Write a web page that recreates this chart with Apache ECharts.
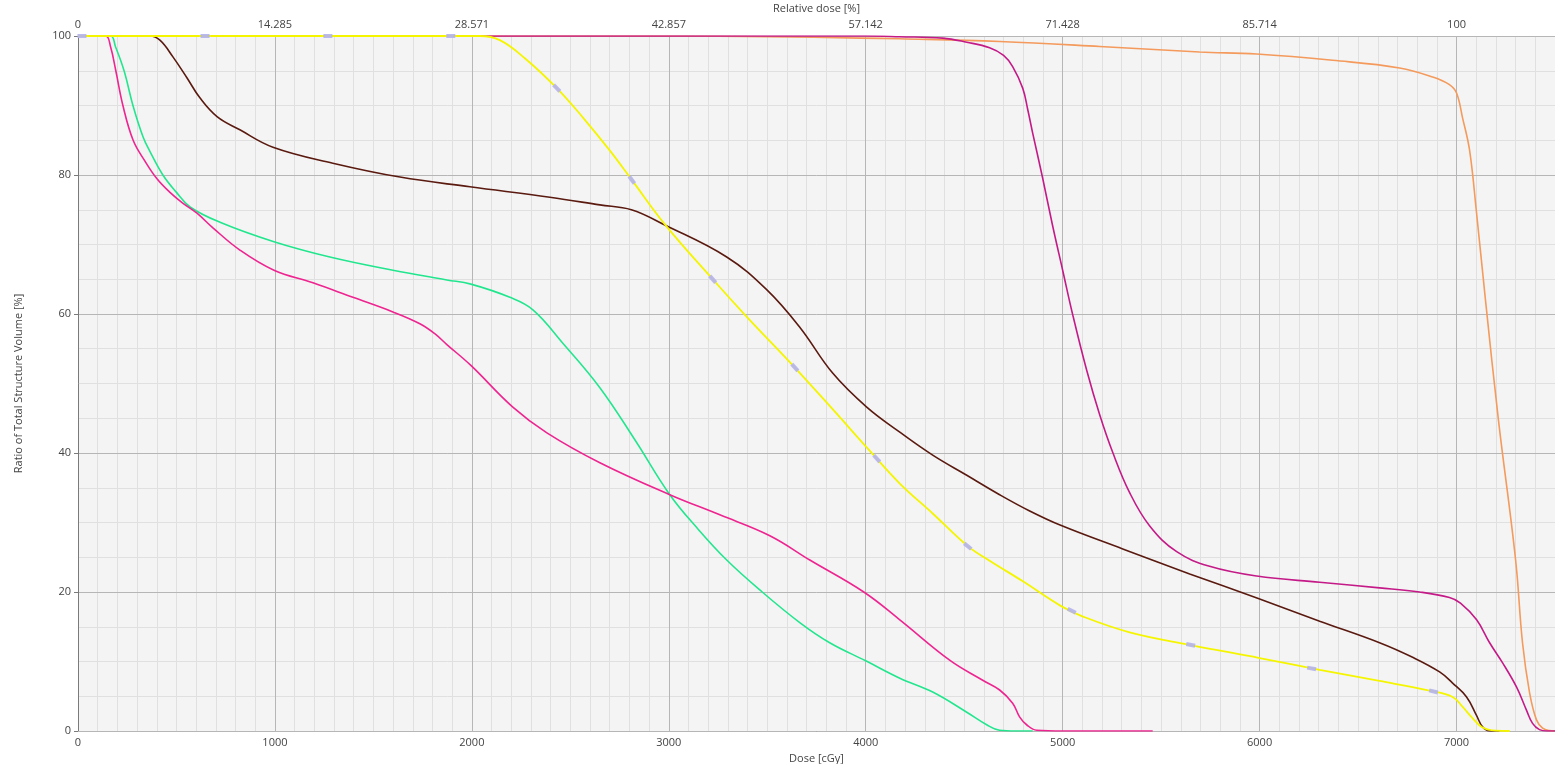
<!DOCTYPE html>
<html><head><meta charset="utf-8">
<script src="https://cdn.jsdelivr.net/npm/echarts@6/dist/echarts.min.js"></script>
<style>html,body{margin:0;padding:0;background:#fff}#c{width:1555px;height:764px}</style>
</head><body><div id="c"></div>
<script>
// ---- data (dose [cGy], volume [%]) ----
const topTickLabels = ['0','14.285','28.571','42.857','57.142','71.428','85.714','100'];

const greenCurve = [[0,100],[165,100],[190,98.5],[234,95],[279,90],[330,85.5],[365,83.4],[431,80],[500,77.5],[569,75.4],[721,73.2],[995,70.4],[1279,68.2],[1599,66.3],[1873,64.9],[1995,64.3],[2193,62.4],[2310,60.6],[2462,55.8],[2650,49.4],[2830,41.8],[3005,34],[3150,29],[3294,24.6],[3462,20.3],[3665,15.6],[3817,12.7],[4000,10.1],[4173,7.6],[4340,5.6],[4513,2.7],[4614,0.9],[4680,0.1],[4760,0],[4848,0]];

const pinkCurve = [[0,100],[140,100],[165,98.5],[192,95],[228,90],[280,85],[340,82],[400,79.5],[467,77.5],[530,76],[604,74.5],[685,72.4],[822,69.2],[995,66.3],[1193,64.5],[1396,62.4],[1599,60.3],[1736,58.6],[1810,57.2],[1873,55.6],[1995,52.6],[2208,46.6],[2381,42.9],[2650,38.6],[3005,34],[3259,31.1],[3513,28.1],[3716,24.6],[3990,20],[4173,16],[4426,10.2],[4594,7.3],[4680,5.9],[4746,4],[4782,2],[4817,0.9],[4868,0.1],[5000,0],[5457,0]];

const brownCurve = [[0,100],[365,100],[416,99.4],[482,97],[553,94],[619,91.1],[706,88.4],[822,86.5],[990,84],[1294,81.7],[1635,79.7],[1990,78.3],[2396,76.8],[2650,75.7],[2810,75],[2980,72.8],[3294,68.2],[3497,63.5],[3665,58.1],[3832,51.5],[4005,46.6],[4173,43],[4340,39.7],[4513,36.8],[4680,34],[4830,31.7],[4990,29.6],[5305,26.2],[5645,22.6],[5990,19.1],[6305,15.8],[6609,12.7],[6777,10.6],[6914,8.5],[6980,6.9],[7051,4.9],[7102,2.2],[7132,0.6],[7168,0],[7218,0]];

const yellowCurve = [[0,100],[2041,100],[2142,99.4],[2269,96.8],[2431,92.5],[2563,88.3],[2701,83.5],[2812,79.3],[2980,72.9],[3223,65],[3396,59.6],[3640,52.3],[3832,46.3],[4005,40.8],[4173,35.6],[4340,31.3],[4518,26.6],[4629,24.5],[4800,21.5],[4990,18],[5100,16.5],[5340,14.2],[5645,12.4],[6000,10.5],[6305,8.8],[6609,7.2],[6863,5.8],[6980,4.9],[7030,3.5],[7080,1.9],[7132,0.5],[7200,0.05],[7270,0]];

const yellowMarkers = [[20,100],[645,100],[1269,100],[1893,100],[2431,92.5],[2812,79.3],[3223,65],[3640,52.3],[4056,39.2],[4518,26.6],[5046,17.3],[5650,12.4],[6264,9.0],[6883,5.7]];

const magentaCurve = [[0,100],[4000,100],[4173,99.9],[4391,99.7],[4513,99.1],[4629,98.3],[4700,97.2],[4746,95.6],[4797,92.5],[4822,89.5],[4848,86],[4898,79.6],[4949,72.7],[5000,66.3],[5051,59.9],[5122,51.9],[5188,45.5],[5254,40.1],[5340,34.3],[5442,29.5],[5579,25.8],[5746,23.7],[5985,22.3],[6305,21.4],[6609,20.6],[6812,20],[6964,19.2],[7020,18.4],[7102,16],[7168,12.7],[7234,9.8],[7305,6.3],[7355,3],[7386,1.1],[7421,0.2],[7460,0],[7500,0]];

const orangeCurve = [[0,100],[3000,100],[3500,99.9],[3970,99.7],[4173,99.6],[4680,99.2],[5188,98.5],[5695,97.7],[5985,97.4],[6371,96.5],[6711,95.4],[6878,94.1],[6964,93],[7000,91.8],[7030,88.3],[7066,83.6],[7100,75],[7147,62],[7213,44.7],[7300,24.6],[7335,12.7],[7371,5.5],[7406,1.6],[7437,0.4],[7472,0.05],[7500,0]];

// ---- chart ----
const font = 'Open Sans';
const txt = {color:'#444', fontSize:11, fontFamily:font};
const chart = echarts.init(document.getElementById('c'), null, {renderer:'canvas'});

function lineSeries(id, data, color, w){
  return {id:id, type:'line', data:data, showSymbol:false, smooth:0.4,
    lineStyle:{color:color, width:w||1.6}, itemStyle:{color:color}, z:3, silent:true};
}

const option = {
  animation:false,
  backgroundColor:'#ffffff',
  grid:{left:78, right:0, top:36, bottom:33, show:true, backgroundColor:'#f4f4f4', borderWidth:0,
        containLabel:false, outerBoundsMode:'none'},
  xAxis:[
    {type:'value', position:'bottom', min:0, max:7500, interval:1000, z:1,
     name:'Dose [cGy]', nameLocation:'middle', nameGap:19, nameTextStyle:txt,
     axisLine:{show:true, lineStyle:{color:'#7a7a7a', width:1}}, axisTick:{show:false},
     axisLabel:Object.assign({margin:6, showMaxLabel:false, formatter:v => v>7000 ? '' : String(v)}, txt),
     splitLine:{show:true, lineStyle:{color:'#b6b6b6', width:1}}},
    {type:'value', position:'top', min:0, max:7500, interval:1000, z:1,
     name:'Relative dose [%]', nameLocation:'middle', nameGap:18, nameTextStyle:txt,
     axisLine:{show:true, lineStyle:{color:'#b6b6b6', width:1}}, axisTick:{show:false},
     axisLabel:Object.assign({margin:6, showMaxLabel:false, formatter:v => { const i=Math.round(v/1000); return (v%1000===0 && topTickLabels[i]!==undefined) ? topTickLabels[i] : ''; }}, txt),
     splitLine:{show:false}},
    {type:'value', position:'bottom', min:0, max:7500, interval:100, z:0,
     axisLine:{show:false}, axisTick:{show:false}, axisLabel:{show:false},
     splitLine:{show:true, lineStyle:{color:'#e0e0e0', width:1}}}
  ],
  yAxis:[
    {type:'value', position:'left', min:0, max:100, interval:20, z:1,
     name:'Ratio of Total Structure Volume [%]', nameLocation:'middle', nameGap:54, nameTextStyle:txt,
     axisLine:{show:true, lineStyle:{color:'#7a7a7a', width:1}},
     axisTick:{show:true, length:4, lineStyle:{color:'#7a7a7a'}},
     axisLabel:Object.assign({margin:7}, txt),
     splitLine:{show:true, lineStyle:{color:'#b6b6b6', width:1}}},
    {type:'value', position:'left', min:0, max:100, interval:5, z:0,
     axisLine:{show:false}, axisTick:{show:false}, axisLabel:{show:false},
     splitLine:{show:true, lineStyle:{color:'#e0e0e0', width:1}}}
  ],
  series:[
    lineSeries('green', greenCurve, '#22e68e'),
    lineSeries('pink', pinkCurve, '#ee2490'),
    lineSeries('brown', brownCurve, '#5a1a10'),
    lineSeries('orange', orangeCurve, '#f49a5c'),
    lineSeries('magenta', magentaCurve, '#c41a88'),
    lineSeries('yellow', yellowCurve, '#f5f500', 1.8),
    {id:'markers', type:'scatter', data:yellowMarkers, symbol:'rect', symbolSize:[9,4], z:4, silent:true,
     itemStyle:{color:'#b4b2ee', opacity:0.9}}
  ]
};
chart.setOption(option);

function interp(arr, d){
  if (d <= arr[0][0]) return arr[0][1];
  for (let i=0;i<arr.length-1;i++){
    const a=arr[i], b=arr[i+1];
    if (d>=a[0] && d<=b[0]) return a[1] + (b[1]-a[1])*(d-a[0])/(b[0]-a[0]);
  }
  return arr[arr.length-1][1];
}
const markerData = yellowMarkers.map(([d,v]) => {
  const p1 = chart.convertToPixel({seriesId:'yellow'}, [d-70, interp(yellowCurve, d-70)]);
  const p2 = chart.convertToPixel({seriesId:'yellow'}, [d+70, interp(yellowCurve, d+70)]);
  const ang = Math.atan2(-(p2[1]-p1[1]), p2[0]-p1[0]) * 180 / Math.PI;
  return {value:[d,v], symbolRotate:ang};
});
chart.setOption({series:[{id:'markers', data:markerData}]});
</script>
</body></html>
